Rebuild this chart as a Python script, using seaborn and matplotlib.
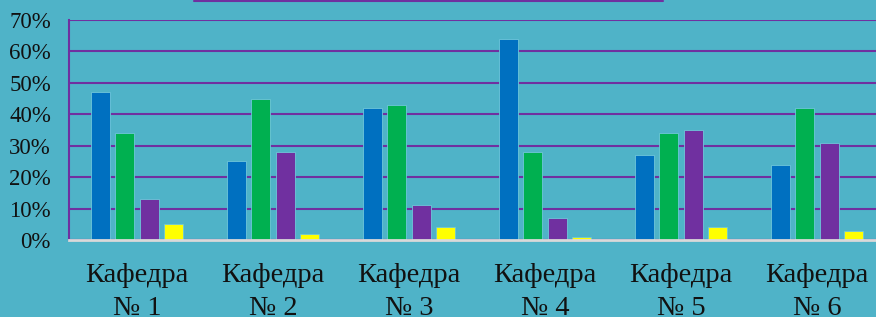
"""Grouped bar chart: shares per department."""

import matplotlib
matplotlib.use("Agg")
import matplotlib.pyplot as plt
import pandas as pd
import seaborn as sns
from matplotlib.lines import Line2D
from matplotlib.ticker import FuncFormatter

# --- data ---
departments = ["Кафедра\n№ 1", "Кафедра\n№ 2", "Кафедра\n№ 3",
               "Кафедра\n№ 4", "Кафедра\n№ 5", "Кафедра\n№ 6"]
series_names = ["Ряд 1", "Ряд 2", "Ряд 3", "Ряд 4"]
series_1 = [47, 25, 42, 64, 27, 24]
series_2 = [34, 45, 43, 28, 34, 42]
series_3 = [13, 28, 11, 7, 35, 31]
series_4 = [5, 2, 4, 1, 4, 3]
y_ticks = [0, 10, 20, 30, 40, 50, 60, 70]

BG = "#4FB3C8"
PURPLE = "#7030A0"
palette = ["#0070C0", "#00B050", "#7030A0", "#FFFF00"]

rows = []
for name, values in zip(series_names, [series_1, series_2, series_3, series_4]):
    for dep, v in zip(departments, values):
        rows.append({"dep": dep, "series": name, "value": v})
df = pd.DataFrame(rows)

sns.set_theme(style="white")
plt.rcParams["font.family"] = ["Liberation Serif", "DejaVu Serif"]

fig = plt.figure(figsize=(8.76, 3.17), dpi=100, facecolor=BG)
ax = fig.add_axes([0.0788, 0.243, 0.9315, 0.694])
ax.set_facecolor(BG)

sns.barplot(data=df, x="dep", y="value", hue="series", palette=palette,
            width=0.72, gap=0.22, ax=ax, legend=False,
            edgecolor="#6FC6DA", linewidth=0.6, saturation=1)

ax.set_ylim(0, 70)
ax.set_xlim(-0.5, 5.5)
ax.set_yticks(y_ticks)
ax.yaxis.set_major_formatter(FuncFormatter(lambda v, _: f"{v:.0f}%"))
ax.grid(axis="y", color=PURPLE, linewidth=1.5)
ax.set_axisbelow(True)
ax.set_xlabel("")
ax.set_ylabel("")

for side in ["top", "right"]:
    ax.spines[side].set_visible(False)
ax.spines["left"].set_color(PURPLE)
ax.spines["left"].set_linewidth(1.5)
ax.spines["bottom"].set_color("#D9D9D9")
ax.spines["bottom"].set_linewidth(2)
ax.spines["bottom"].set_zorder(5)

ax.tick_params(axis="y", length=0, pad=13, labelsize=16.5, labelcolor="#111111")
ax.tick_params(axis="x", length=0, pad=16.5, labelsize=20.5, labelcolor="#111111")
for lbl in ax.get_xticklabels():
    lbl.set_linespacing(1.42)

# bottom edge of the title box cut off at the top of the picture
fig.add_artist(Line2D([194 / 876, 663 / 876], [0.998, 0.998],
                      transform=fig.transFigure, color=PURPLE, linewidth=1.5))

fig.savefig("out.png", dpi=100, facecolor=BG)
